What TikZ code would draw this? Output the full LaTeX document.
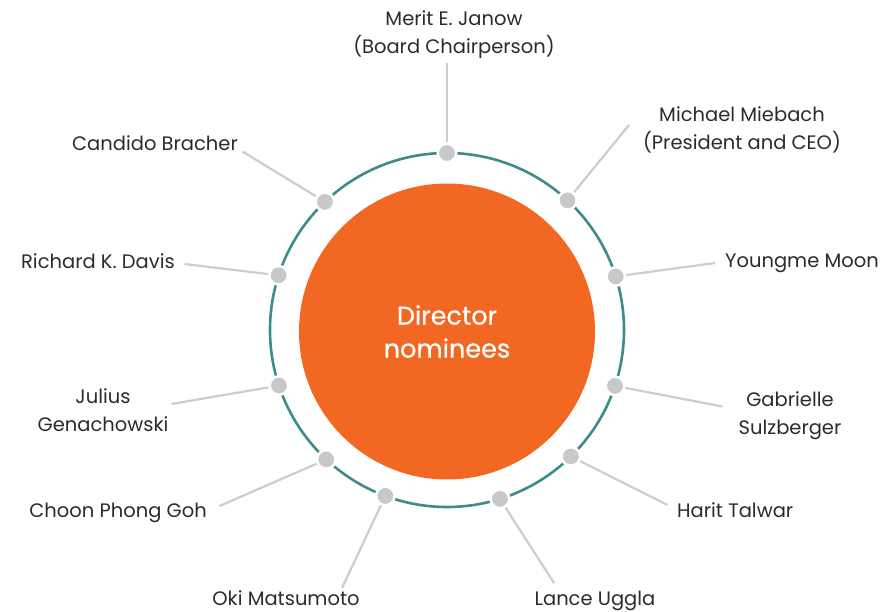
\documentclass[tikz,border=0pt]{standalone}
\usepackage{fontspec}
\setmainfont{Poppins}
\newfontfamily\corefont[FakeBold=0.7]{Poppins}
\usetikzlibrary{calc}
\definecolor{coreorange}{HTML}{F26722}
\definecolor{ringteal}{HTML}{3C8C8A}
\definecolor{dotgray}{HTML}{C8C8CA}
\definecolor{linegray}{HTML}{CDCDCD}
\definecolor{txt}{HTML}{2B2B2B}
\begin{document}
\begin{tikzpicture}[x=1pt,y=-1pt,
  lbl/.style={font=\fontsize{19.5}{28}\selectfont, text=txt, align=center, inner sep=0pt},
  dotnode/.style={circle, fill=dotgray, draw=white, line width=2.5pt, minimum size=18.5pt, inner sep=0pt},
  spoke/.style={draw=linegray, line width=2.2pt},
  ring/.style={draw=ringteal, line width=2.6pt},
  core/.style={circle, fill=coreorange, minimum size=296pt, inner sep=0pt, text=white, align=center, font=\corefont\fontsize{25.5}{33}\selectfont}
]
\useasboundingbox (0,0) rectangle (883,612);
\coordinate (c) at (447,330);
\node[core] (centre) at ([yshift=-1.5pt]c) {Director\\nominees};
\draw[ring] (c) circle[radius=177pt];

% dots on the ring
\foreach \nm/\ang in {merit/90, michael/47.1, youngme/17.6, gabrielle/-18.4, harit/-45.6, lance/-72.6, oki/-110.4, choon/-133, julius/-161.7, richard/162, candido/133.6}{
  \node[dotnode] (d\nm) at ($(c)+(\ang:177pt)$) {};
}

% free ends of the spokes
\coordinate (emerit) at (447,63);
\coordinate (emichael) at (629,125);
\coordinate (eyoungme) at (715,263);
\coordinate (egabrielle) at (722.5,406.5);
\coordinate (eharit) at (667.5,505);
\coordinate (elance) at (554,583);
\coordinate (eoki) at (342,588);
\coordinate (echoon) at (219.5,506);
\coordinate (ejulius) at (171.5,404);
\coordinate (erichard) at (184.5,264);
\coordinate (ecandido) at (242.5,151.5);

\foreach \nm in {merit, michael, youngme, gabrielle, harit, lance, oki, choon, julius, richard, candido}{
  \draw[spoke] (d\nm) -- (e\nm);
}

% labels (base anchor of a two-line node is the last line's baseline)
\node[lbl, anchor=base] (tmerit) at (454,54) {Merit E. Janow\\(Board Chairperson)};
\node[lbl, anchor=base] (tmichael) at (742,150) {Michael Miebach\\(President and CEO)};
\node[lbl, anchor=base west] (tyoungme) at (725,268) {Youngme Moon};
\node[lbl, anchor=base] (tgabrielle) at (790,434) {Gabrielle\\Sulzberger};
\node[lbl, anchor=base west] (tharit) at (677,517) {Harit Talwar};
\node[lbl, anchor=base] (tlance) at (595,605) {Lance Uggla};
\node[lbl, anchor=base] (toki) at (286,605) {Oki Matsumoto};
\node[lbl, anchor=base east] (tchoon) at (207,517) {Choon Phong Goh};
\node[lbl, anchor=base] (tjulius) at (103,431) {Julius\\Genachowski};
\node[lbl, anchor=base east] (trichard) at (175,269) {Richard K. Davis};
\node[lbl, anchor=base east] (tcandido) at (238,150.5) {Candido Bracher};
\end{tikzpicture}
\end{document}
